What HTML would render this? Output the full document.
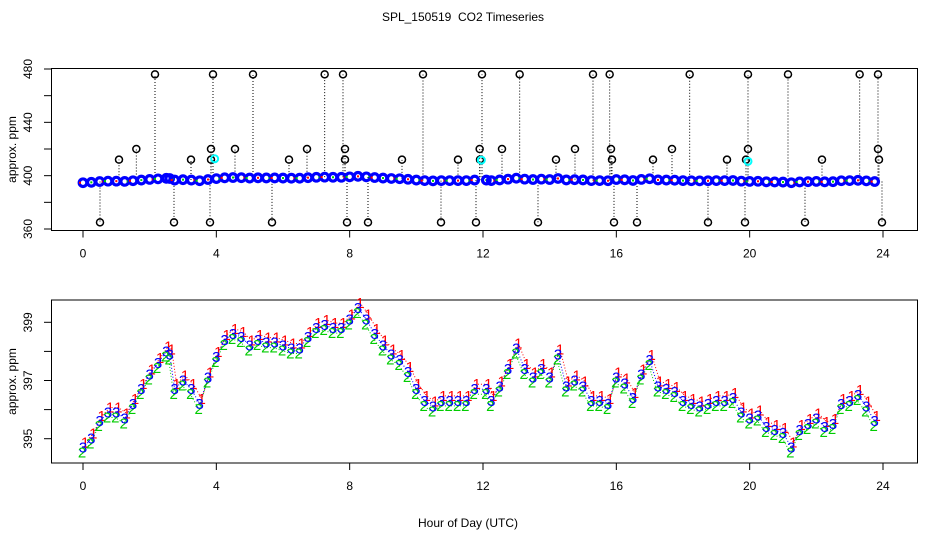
<!DOCTYPE html>
<html><head><meta charset="utf-8"><style>
body{margin:0;background:#fff}
svg{display:block;font-family:"Liberation Sans",sans-serif}
</style></head><body>
<svg id="c" width="936" height="540" viewBox="0 0 936 540">
<text x="463" y="21" font-size="12" text-anchor="middle" style="white-space:pre">SPL_150519  CO2 Timeseries</text>
<text x="468" y="527" font-size="12" text-anchor="middle">Hour of Day (UTC)</text>
<g id="topPanel"></g><g id="botPanel"></g>
</svg>
<script>
const hours=[0,0.25,0.5,0.75,1,1.25,1.5,1.75,2,2.25,2.5,2.6,2.75,3,3.25,3.5,3.75,4,4.25,4.5,4.75,5,5.25,5.5,5.75,6,6.25,6.5,6.75,7,7.25,7.5,7.75,8,8.25,8.5,8.75,9,9.25,9.5,9.75,10,10.25,10.5,10.75,11,11.25,11.5,11.75,12.1,12.25,12.5,12.75,13,13.25,13.5,13.75,14,14.25,14.5,14.75,15,15.25,15.5,15.75,16,16.25,16.5,16.75,17,17.25,17.5,17.75,18,18.25,18.5,18.75,19,19.25,19.5,19.75,20,20.25,20.5,20.75,21,21.25,21.5,21.75,22,22.25,22.5,22.75,23,23.25,23.5,23.75];
const co2=[394.7,395.0,395.6,395.9,395.9,395.7,396.2,396.7,397.2,397.6,398.0,397.9,396.7,397.0,396.7,396.2,397.1,397.8,398.4,398.6,398.5,398.2,398.4,398.3,398.3,398.2,398.1,398.1,398.5,398.8,398.9,398.8,398.8,399.1,399.5,399.1,398.6,398.2,397.9,397.7,397.3,396.7,396.3,396.1,396.3,396.3,396.3,396.3,396.7,396.7,396.3,396.8,397.4,398.1,397.4,397.1,397.4,397.1,397.9,396.8,397.0,396.8,396.3,396.3,396.2,397.1,396.9,396.4,397.2,397.7,396.8,396.7,396.6,396.3,396.2,396.1,396.2,396.3,396.3,396.4,395.9,395.7,395.8,395.4,395.3,395.2,394.7,395.3,395.5,395.7,395.4,395.5,396.2,396.3,396.5,396.1,395.6];
const outHi=[2.16,3.9,5.1,7.25,7.8,10.2,11.97,13.1,15.3,15.8,18.2,19.95,21.15,23.3,23.85];
const out420=[1.6,3.84,4.56,6.72,7.86,11.9,12.57,14.76,15.84,17.67,19.95,23.85];
const out412=[1.08,3.24,3.84,6.18,7.86,9.57,11.25,11.91,14.19,15.87,17.1,19.32,19.89,22.17,23.88];
const outLo=[0.51,2.73,3.81,5.67,7.92,8.55,10.74,11.79,13.65,15.93,16.62,18.75,19.86,21.66,23.97];
const cyan=[3.95,11.95,19.95];
const xTicks=[0,4,8,12,16,20,24];
const topTicks=[360,380,400,420,440,460,480];
const topLabels=[360,400,440,480];
const botTicks=[395,396,397,398,399];
const botLabels=[395,397,399];
const NS='http://www.w3.org/2000/svg';
const X=h=>83+h*33.333;
const YT=v=>229-(v-360)*1.3333;
const YB=v=>438.7-(v-395)*29.1;
function el(p,t,a){const e=document.createElementNS(NS,t);for(const k in a)e.setAttribute(k,a[k]);p.appendChild(e);return e;}
function interp(h){for(let i=1;i<hours.length;i++){if(hours[i]>=h){const t=(h-hours[i-1])/(hours[i]-hours[i-1]);return co2[i-1]+t*(co2[i]-co2[i-1]);}}return co2[co2.length-1];}
function frame(g,y0,y1,ticks,labels,Y,name){
 const r=el(g,'rect',{x:51.5,y:y0,width:866,height:y1-y0,fill:'none',stroke:'#000'});
 
 
 xTicks.forEach(h=>{
  const l=el(g,'line',{x1:X(h),x2:X(h),y1:y1,y2:y1+7,stroke:'#000'});
  
  
  const t=el(g,'text',{x:X(h),y:y1+27,'font-size':12,'text-anchor':'middle'});t.textContent=h;
  
  
 });
 ticks.forEach(v=>{
  const l=el(g,'line',{x1:44,x2:51.5,y1:Y(v),y2:Y(v),stroke:'#000'});
  
  
 });
 labels.forEach(v=>{
  const t=el(g,'text',{x:0,y:0,'font-size':12,'text-anchor':'middle',transform:`translate(32,${Y(v)}) rotate(-90)`});t.textContent=v;
  
  
 });
 const yt=el(g,'text',{x:0,y:0,'font-size':12,'text-anchor':'middle',transform:`translate(16,${(y0+y1)/2}) rotate(-90)`});yt.textContent='approx. ppm';
 
 
}
const gTop=document.getElementById('topPanel'),gBot=document.getElementById('botPanel');
frame(gTop,68.5,230.5,topTicks,topLabels,YT,'top');
frame(gBot,300,463,botTicks,botLabels,YB,'bottom');
function outl(arr,v){arr.forEach(h=>{
 const base=YT(interp(h));const y=YT(v);
 const l=el(gTop,'line',{x1:X(h),x2:X(h),y1:base,y2:y,stroke:'#000','stroke-dasharray':'1,2'});
 
 
 const c=el(gTop,'circle',{cx:X(h),cy:y,r:3.5,fill:'none',stroke:'#000','stroke-width':1.5});
 
 
});}
outl(outHi,476);outl(out420,420);outl(out412,412);outl(outLo,365);
hours.forEach((h,i)=>{
 const c=el(gTop,'circle',{cx:X(h),cy:YT(co2[i]),r:3.8,fill:'none',stroke:'#0000ff','stroke-width':3.2});
 
 
 const d=el(gTop,'rect',{x:X(h)-1+((i%3)-1)*3,y:YT(co2[i])-1,width:2,height:2,fill:i%2?'#00cc00':'#ff0000'});
 
 
});
cyan.forEach(h=>{
 const c=el(gTop,'circle',{cx:X(h),cy:YT(interp(h))-20,r:3.5,fill:'none',stroke:'#00ffff','stroke-width':2});
 
 
});
const glyphs=[['1','#ff0000',2,-5],['2','#00cc00',-1,5],['3','#0000ff',0,0]];
glyphs.forEach(([g,col,dx,dy])=>{
 let d='';hours.forEach((h,i)=>{d+=(i?'L':'M')+(X(h)+dx)+','+(YB(co2[i])+dy);});
 const p=el(gBot,'path',{d:d,fill:'none',stroke:col,'stroke-width':1,'stroke-dasharray':'1,2'});
 
 
});
hours.forEach((h,i)=>{glyphs.forEach(([g,col,dx,dy])=>{
 const t=el(gBot,'text',{x:X(h)+dx,y:YB(co2[i])+dy+5,'font-size':15,fill:col,'text-anchor':'middle'});t.textContent=g;
 
 
});});
</script>
</body></html>
